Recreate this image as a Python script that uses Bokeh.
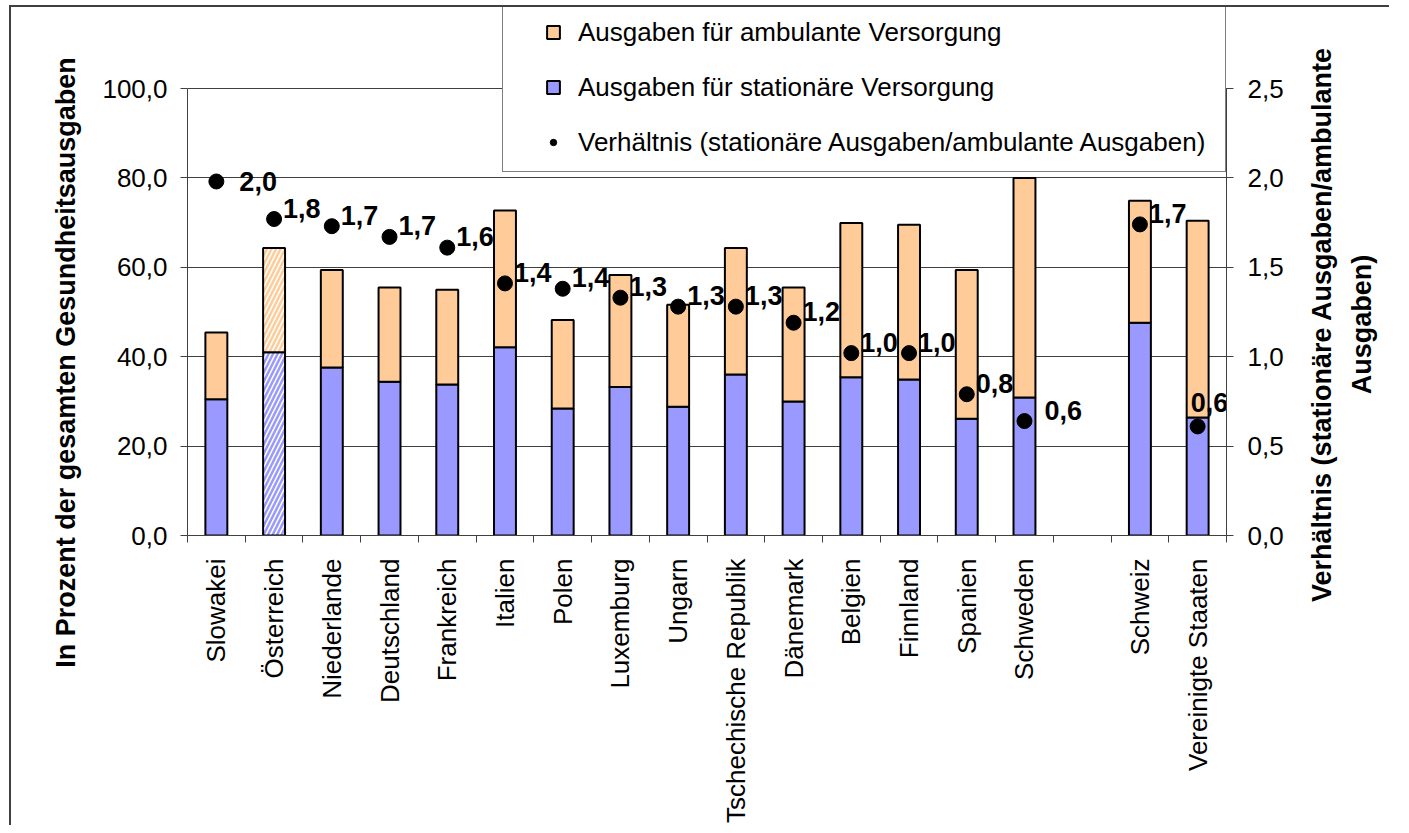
import math
from bokeh.plotting import figure
from bokeh.models import (Range1d, LinearAxis, FixedTicker, ColumnDataSource, Legend,
                          LegendItem, Label, CustomJSTickFormatter)
from bokeh.core.properties import value
from bokeh.embed import file_html
from bokeh.resources import INLINE

# ---------------- data ----------------
categories = ["Slowakei", "Österreich", "Niederlande", "Deutschland", "Frankreich", "Italien",
              "Polen", "Luxemburg", "Ungarn", "Tschechische Republik", "Dänemark", "Belgien",
              "Finnland", "Spanien", "Schweden", "", "Schweiz", "Vereinigte Staaten"]
stationaer = [30.5, 41.0, 37.6, 34.4, 33.8, 42.1, 28.4, 33.2, 28.8, 36.0, 30.0, 35.4,
              34.9, 26.1, 30.9, None, 47.6, 26.4]
ambulant = [14.9, 23.3, 21.8, 21.1, 21.2, 30.6, 19.8, 25.1, 22.8, 28.3, 25.5, 34.5,
            34.6, 33.3, 49.1, None, 27.3, 44.0]
verhaeltnis = [1.98, 1.77, 1.73, 1.67, 1.61, 1.41, 1.38, 1.33, 1.28, 1.28, 1.19, 1.02,
               1.02, 0.79, 0.64, None, 1.74, 0.61]
left_ticks = [0, 20, 40, 60, 80, 100]
right_ticks = [0, 0.5, 1, 1.5, 2, 2.5]
hatched_countries = ["Österreich"]

legend_labels = ["Ausgaben für ambulante Versorgung",
                 "Ausgaben für stationäre Versorgung",
                 "Verhältnis (stationäre Ausgaben/ambulante Ausgaben)"]
left_title = "In Prozent der gesamten Gesundheitsausgaben"
right_title = ["Verhältnis (stationäre Ausgaben/ambulante", "Ausgaben)"]

# ---------------- styling ----------------
ORANGE = "#FFCC99"
BLUE = "#9999FF"
FONT = "Liberation Sans"
GRID = "#404040"
label_nudge = {"Slowakei": (14, 11), "Schweden": (11, 0), "Vereinigte Staaten": (-16, -13)}

idx = [i for i, c in enumerate(categories) if c]
xs = [i + 0.5 for i in idx]
names = [categories[i] for i in idx]
stat = [stationaer[i] for i in idx]
total = [stationaer[i] + ambulant[i] for i in idx]
ratio = [verhaeltnis[i] for i in idx]
hatch = ["/" if n in hatched_countries else " " for n in names]
stat_fill = ["white" if n in hatched_countries else BLUE for n in names]
amb_fill = ["white" if n in hatched_countries else ORANGE for n in names]
labs = [f"{r:.1f}".replace(".", ",") for r in ratio]
dx = [9 + label_nudge.get(n, (0, 0))[0] for n in names]
dy = [-11 + label_nudge.get(n, (0, 0))[1] for n in names]

src = ColumnDataSource(dict(x=xs, name=names, stat=stat, total=total, ratio=ratio, hatch=hatch,
                            stat_fill=stat_fill, amb_fill=amb_fill, lab=labs, dx=dx, dy=dy))

# page geometry: canvas origin (after outer chart border), plot frame
OX, OY = 11, 7
W, H = 1380, 820
X0, X1 = 187, 1226          # frame left/right (page px)
Y100, Y0 = 88, 535           # pixel rows of 100 % and 0 %
FT = 0                       # frame reaches canvas top (room for the legend)
FL, FW, FH = X0 - OX, X1 - X0, Y0 - OY - FT
ytop = 100 * FH / (Y0 - Y100)

p = figure(width=W, height=H, output_backend="svg", toolbar_location=None,
           x_range=Range1d(0, len(categories)), y_range=Range1d(0, ytop),
           min_border_left=FL, min_border_top=FT, min_border_right=W - FL - FW,
           min_border_bottom=H - FT - FH, outline_line_color=None,
           background_fill_color="white", border_fill_color="white")
p.margin = (OY - 2, 0, 0, OX - 2)
p.styles = {"border-left": "2px solid #404040", "border-top": "2px solid #404040"}
p.extra_y_ranges = {"right": Range1d(0, 2.5 * ytop / 100)}

# bars
r_stat = p.vbar(x="x", width=0.38, bottom=0, top="stat", source=src, fill_color="stat_fill",
                hatch_pattern="hatch", hatch_color=BLUE, hatch_scale=9, hatch_weight=2.5,
                line_color="black", line_width=2)
r_amb = p.vbar(x="x", width=0.38, bottom="stat", top="total", source=src, fill_color="amb_fill",
               hatch_pattern="hatch", hatch_color=ORANGE, hatch_scale=9, hatch_weight=2.5,
               line_color="black", line_width=2)
r_dot = p.scatter(x="x", y="ratio", source=src, y_range_name="right", size=15,
                  fill_color="black", line_color="black")
p.text(x="x", y="ratio", text="lab", source=src, y_range_name="right", x_offset="dx",
       y_offset="dy", text_font=value(FONT), text_font_size="27px", text_font_style="bold",
       text_align="left", text_baseline="middle", text_color="black")

fmt = CustomJSTickFormatter(code="return tick.toFixed(1).replace('.', ',');")

# left axis
ya = p.yaxis[0]
ya.ticker = FixedTicker(ticks=left_ticks)
ya.formatter = fmt
ya.bounds = (0, 100)
ya.major_tick_out = 7
ya.major_tick_in = 0
ya.minor_tick_line_color = None
ya.axis_line_color = GRID
ya.major_tick_line_color = GRID
ya.major_label_standoff = 13
ya.major_label_text_font = FONT
ya.major_label_text_font_size = "26px"
ya.major_label_text_color = "black"

p.ygrid.ticker = FixedTicker(ticks=left_ticks)
p.ygrid.grid_line_color = GRID
p.ygrid.grid_line_width = 1
p.xgrid.visible = False

# right axis
ra = LinearAxis(y_range_name="right", ticker=FixedTicker(ticks=right_ticks), formatter=fmt,
                bounds=(0, 2.5), major_tick_in=7, major_tick_out=7, minor_tick_line_color=None,
                axis_line_color=GRID, major_tick_line_color=GRID, major_label_standoff=14,
                major_label_text_font=FONT, major_label_text_font_size="26px",
                major_label_text_color="black")
p.add_layout(ra, "right")

# x axis
xa = p.xaxis[0]
xa.ticker = FixedTicker(ticks=xs, minor_ticks=list(range(len(categories) + 1)))
xa.major_label_overrides = {x: n for x, n in zip(xs, names)}
xa.major_label_orientation = math.pi / 2
xa.major_tick_line_color = None
xa.major_tick_out = 7
xa.minor_tick_out = 7
xa.minor_tick_in = 0
xa.minor_tick_line_color = GRID
xa.axis_line_color = GRID
xa.major_label_standoff = 16
xa.major_label_text_font = FONT
xa.major_label_text_font_size = "26px"
xa.major_label_text_color = "black"

# axis titles as labels in the side panels
p.add_layout(Label(x=-4, y=Y0 - 362, x_units="screen", y_units="screen", text=left_title,
                   angle=math.pi / 2, text_align="center", text_baseline="middle",
                   text_font=FONT, text_font_size="27px", text_font_style="bold",
                   text_color="black"), "left")
for cx, line in zip([35, 45], right_title):
    p.add_layout(Label(x=cx, y=Y0 - 324, x_units="screen", y_units="screen", text=line,
                       angle=math.pi / 2, text_align="center", text_baseline="middle",
                       text_font=FONT, text_font_size="27px", text_font_style="bold",
                       text_color="black"), "right")

# legend: box + items
dummy = p.scatter(x=[], y=[], fill_alpha=0, line_alpha=0)
box = Legend(items=[LegendItem(label=" ", renderers=[dummy])], location=(502 - X0, Y0 - 172),
             padding=0, margin=0, spacing=0, glyph_width=1, glyph_height=166, label_standoff=0,
             label_width=721, label_height=166, border_line_color="black", border_line_width=1,
             background_fill_color="white", background_fill_alpha=1.0)
p.add_layout(box, "center")
leg = Legend(items=[LegendItem(label=legend_labels[0], renderers=[r_amb]),
                    LegendItem(label=legend_labels[1], renderers=[r_stat]),
                    LegendItem(label=legend_labels[2], renderers=[r_dot])],
             location=(545 - X0, Y0 - 162), padding=0, margin=0, spacing=15,
             glyph_width=16, glyph_height=16, label_standoff=17, label_height=40,
             label_text_font=FONT, label_text_font_size="26px", label_text_color="black",
             border_line_color=None, background_fill_alpha=0)
p.add_layout(leg, "center")

open("out.html", "w").write(file_html(p, INLINE))
